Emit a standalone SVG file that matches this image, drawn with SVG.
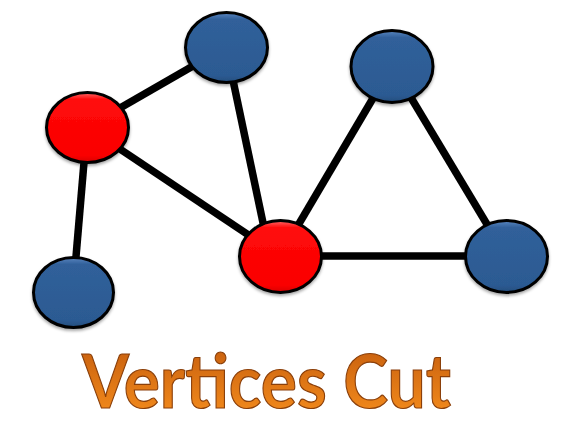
<svg xmlns="http://www.w3.org/2000/svg" width="562" height="422" viewBox="0 0 562 422">
<defs>
<linearGradient id="gBlue" x1="0" y1="0" x2="0" y2="1">
<stop offset="0" stop-color="#5b86c0"/>
<stop offset="0.1" stop-color="#30609a"/>
<stop offset="0.9" stop-color="#2c5a92"/>
<stop offset="1" stop-color="#244c7c"/>
</linearGradient>
<linearGradient id="gRed" x1="0" y1="0" x2="0" y2="1">
<stop offset="0" stop-color="#ff6a6a"/>
<stop offset="0.1" stop-color="#ff0a0a"/>
<stop offset="0.9" stop-color="#fa0000"/>
<stop offset="1" stop-color="#d80000"/>
</linearGradient>
<linearGradient id="gText" x1="0" y1="0" x2="0" y2="1">
<stop offset="0" stop-color="#c0580c"/>
<stop offset="1" stop-color="#f8901e"/>
</linearGradient>
<filter id="sh" x="-10%" y="-10%" width="120%" height="130%">
<feDropShadow dx="0" dy="2" stdDeviation="1.5" flood-color="#000" flood-opacity="0.35"/>
</filter>
</defs>
<style>
.edge{stroke:#000;stroke-width:7.5;stroke-linecap:butt;fill:none}
.blue{fill:url(#gBlue);stroke:#000;stroke-width:3;filter:url(#sh)}
.red{fill:url(#gRed);stroke:#000;stroke-width:3;filter:url(#sh)}
.title{font-family:Lato,"Open Sans","DejaVu Sans",sans-serif;font-weight:bold;font-size:75px;fill:url(#gText);stroke:#8a3f0a;stroke-width:1.2}
</style>
<g id="connectors">
<line class="edge" x1="87" y1="127" x2="226" y2="47"/>
<line class="edge" x1="87" y1="127" x2="73" y2="292"/>
<line class="edge" x1="87" y1="127" x2="280" y2="256"/>
<line class="edge" x1="226" y1="47" x2="270" y2="256"/>
<line class="edge" x1="280" y1="256" x2="392" y2="66"/>
<line class="edge" x1="280" y1="256" x2="506" y2="256"/>
<line class="edge" x1="392" y1="66" x2="506" y2="256"/>
</g>
<g id="node-blue-top"><ellipse class="blue" cx="226.5" cy="47.5" rx="41" ry="35"/></g>
<g id="node-blue-topright"><ellipse class="blue" cx="392" cy="66.5" rx="41" ry="36"/></g>
<g id="node-blue-right"><ellipse class="blue" cx="506.5" cy="256.5" rx="41" ry="36"/></g>
<g id="node-blue-bottomleft"><ellipse class="blue" cx="73.5" cy="292.5" rx="40" ry="35"/></g>
<g id="node-red-left"><ellipse class="red" cx="87.5" cy="127.5" rx="41" ry="35"/></g>
<g id="node-red-center"><ellipse class="red" cx="280.5" cy="256.5" rx="41" ry="36"/></g>
<g id="title"><text class="title" x="82" y="408" textLength="369" lengthAdjust="spacingAndGlyphs">Vertices Cut</text></g>
</svg>
